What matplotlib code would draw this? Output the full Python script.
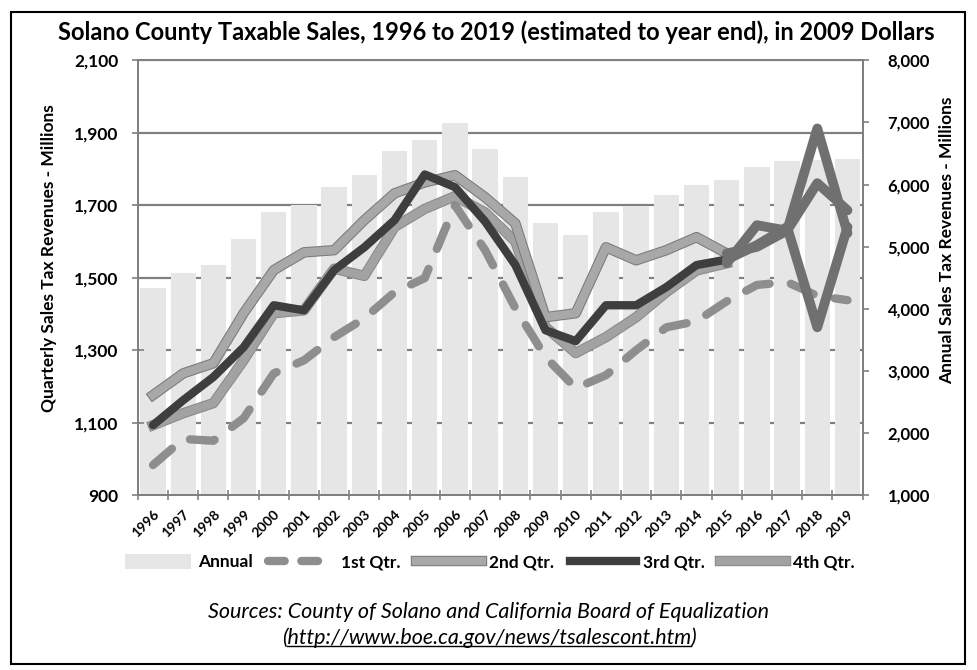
import matplotlib
matplotlib.use('Agg')
import matplotlib.pyplot as plt
import matplotlib.patheffects as pe
from matplotlib.patches import Patch, Rectangle
from matplotlib.lines import Line2D
from matplotlib.ticker import FuncFormatter, FixedLocator
import numpy as np

plt.rcParams['font.family'] = ['Lato', 'DejaVu Sans']

# Данные с картинки
years = [str(y) for y in range(1996, 2020)]
annual = [4330, 4570, 4700, 5120, 5550, 5670, 5960, 6150, 6540, 6710, 6990, 6580,
          6120, 5380, 5180, 5550, 5650, 5830, 6000, 6070, 6280, 6380, 6390, 6410]
q1 = [983, 1055, 1050, 1112, 1236, 1272, 1336, 1388, 1460, 1499, 1700, 1576,
      1416, 1281, 1195, 1231, 1300, 1363, 1380, 1435, 1480, 1488, 1450, 1438]
q2 = [1176, 1236, 1264, 1402, 1521, 1570, 1576, 1659, 1733, 1763, 1783, 1722,
      1650, 1391, 1402, 1584, 1548, 1576, 1612, 1567, 1585, 1630, 1912, 1623]
q3 = [1093, 1162, 1226, 1308, 1424, 1410, 1521, 1584, 1659, 1785, 1750, 1655,
      1535, 1355, 1325, 1424, 1424, 1474, 1535, 1550, 1590, 1640, 1363, 1640]
q4 = [1093, 1126, 1154, 1272, 1402, 1410, 1525, 1505, 1640, 1690, 1725, 1680,
      1600, 1364, 1292, 1336, 1391, 1460, 1520, 1540, 1645, 1630, 1761, 1686]
est_from = 19  # с 2015 года линии серые (оценка)

left_ticks = [900, 1100, 1300, 1500, 1700, 1900, 2100]
right_ticks = [1000, 2000, 3000, 4000, 5000, 6000, 7000, 8000]

title = 'Solano County Taxable Sales, 1996 to 2019 (estimated to year end), in 2009 Dollars'
source1 = 'Sources: County of Solano and California Board of Equalization'
source2 = '(http://www.boe.ca.gov/news/tsalescont.htm)'

x = np.arange(len(years))
spine_c = '#808080'
bar_c = '#e6e6e6'
est_c = '#707070'
lw = 6

fig = plt.figure(figsize=(9.78, 6.70), dpi=100)
ax = fig.add_axes([0.141, 0.261, 0.741, 0.649])
ax2 = ax.twinx()

# столбцы (годовые) - на нижней оси, шкала справа
ax.set_ylim(1000, 8000)
ax.set_xlim(-0.5, len(years) - 0.5)
fr = [(t - left_ticks[0]) / (left_ticks[-1] - left_ticks[0]) for t in left_ticks[1:]]
ax.hlines(fr, 0, 1, transform=ax.transAxes, color='#808080', lw=1.6, zorder=0)
ax.bar(x, annual, width=0.84, color=bar_c, zorder=1)

# квартальные линии - на верхней оси, шкала слева
ax2.set_ylim(left_ticks[0], left_ticks[-1])
ax2.plot(x, q1, color='#8e8e8e', lw=lw, dashes=(3, 2.6), dash_capstyle='round',
         solid_capstyle='round', zorder=2)
ax2.plot(x[:est_from + 1], q4[:est_from + 1], color='#a2a2a2', lw=lw, solid_joinstyle='round',
         path_effects=[pe.Stroke(linewidth=lw + 1.5, foreground='#8a8a8a'), pe.Normal()], zorder=3)
ax2.plot(x[:est_from + 1], q2[:est_from + 1], color='#a8a8a8', lw=lw, solid_joinstyle='round',
         path_effects=[pe.Stroke(linewidth=lw + 1.5, foreground='#7a7a7a'), pe.Normal()], zorder=4)
ax2.plot(x[:est_from + 1], q3[:est_from + 1], color='#3e3e3e', lw=lw, solid_joinstyle='round',
         solid_capstyle='round', zorder=5)
for q in (q4, q3, q2):
    ax2.plot(x[est_from:], q[est_from:], color=est_c, lw=lw + 1, solid_joinstyle='round',
             solid_capstyle='round', zorder=6)

# оси
ax.yaxis.tick_right()
ax.yaxis.set_label_position('right')
ax2.yaxis.tick_left()
ax2.yaxis.set_label_position('left')
ax.yaxis.set_major_locator(FixedLocator(right_ticks))
ax2.yaxis.set_major_locator(FixedLocator(left_ticks))
fmt = FuncFormatter(lambda v, p: f'{int(v):,}')
ax.yaxis.set_major_formatter(fmt)
ax2.yaxis.set_major_formatter(fmt)

ax.set_xticks(x)
ax.set_xticklabels(years, rotation=45, ha='right', rotation_mode='anchor',
                   fontsize=10, fontweight='bold')
ax.set_xticks(np.arange(len(years) + 1) - 0.5, minor=True)
ax.tick_params(axis='x', which='major', length=0, pad=9)
ax.tick_params(axis='x', which='minor', length=7, direction='inout', color=spine_c, width=1.2)
ax.tick_params(axis='y', length=4, color=spine_c, width=1.2, labelsize=12, pad=14)
ax2.tick_params(axis='y', length=8, direction='inout', color=spine_c, width=1.2,
                labelsize=12.5, pad=10)
for lab in ax.get_yticklabels() + ax2.get_yticklabels():
    lab.set_fontweight('bold')

for a in (ax, ax2):
    for s in a.spines.values():
        s.set_color(spine_c)
        s.set_linewidth(1.4)

fig.text(49 / 978, 1 - 258 / 670, 'Quarterly Sales Tax Revenues - Millions', rotation=90,
         ha='center', va='center', fontsize=12.5, fontweight='bold')
fig.text(947 / 978, 1 - 240 / 670, 'Annual Sales Tax Revenues - Millions', rotation=90,
         ha='center', va='center', fontsize=12.5, fontweight='bold')
fig.text(0.507, 1 - 32 / 670, title, ha='center', va='center', fontsize=17, fontweight='bold')

# легенда
handles = [
    Patch(facecolor=bar_c, edgecolor='none'),
    Line2D([], [], color='#8e8e8e', lw=lw, dashes=(2, 2), dash_capstyle='round'),
    Line2D([], [], color='#a8a8a8', lw=lw,
           path_effects=[pe.Stroke(linewidth=lw + 1.5, foreground='#7a7a7a'), pe.Normal()]),
    Line2D([], [], color='#3e3e3e', lw=lw),
    Line2D([], [], color='#a2a2a2', lw=lw,
           path_effects=[pe.Stroke(linewidth=lw + 1.5, foreground='#8a8a8a'), pe.Normal()]),
]
labels = ['Annual', '1st Qtr.', '2nd Qtr.', '3rd Qtr.', '4th Qtr.']
fig.legend(handles, labels, loc='center', bbox_to_anchor=(490 / 978, 1 - 562 / 670), ncol=5,
           frameon=False, handlelength=3.8, handleheight=1.0, columnspacing=0.9,
           handletextpad=0.4, prop={'weight': 'bold', 'size': 12.5})

# источники
fig.text(0.5, 1 - 612 / 670, source1, ha='center', va='center', fontsize=15.5, style='italic')
t2 = fig.text(0.5, 1 - 638 / 670, source2, ha='center', va='center', fontsize=15.5, style='italic')

# рамка вокруг всего
fig.patches.append(Rectangle((11 / 978, 1 - 664 / 670), 954 / 978, 652 / 670,
                             transform=fig.transFigure, fill=False, ec='black', lw=1.5))

# подчеркивание ссылки
fig.canvas.draw()
r = fig.canvas.get_renderer()
bb = t2.get_window_extent(r)
wp, _, _ = r.get_text_width_height_descent('(', t2.get_fontproperties(), ismath=False)
wc, _, _ = r.get_text_width_height_descent(')', t2.get_fontproperties(), ismath=False)
W, H = fig.bbox.width, fig.bbox.height
fig.lines.append(Line2D([(bb.x0 + wp) / W, (bb.x1 - wc) / W], [(bb.y0 + 2) / H] * 2,
                        transform=fig.transFigure, color='black', lw=1))

fig.savefig('out.png', dpi=100)
